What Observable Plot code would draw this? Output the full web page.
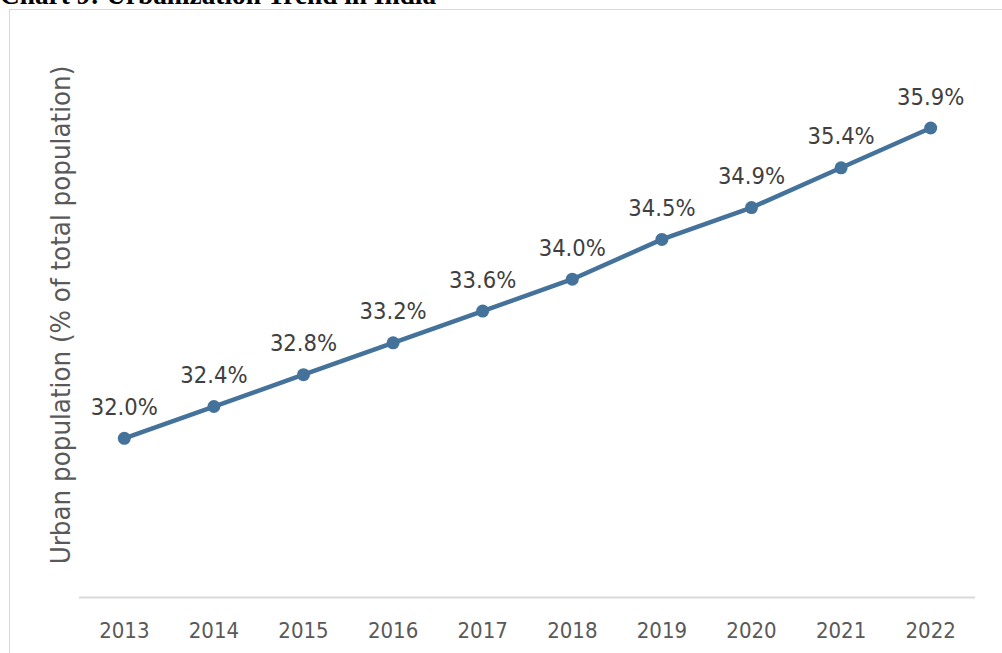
<!DOCTYPE html>
<html>
<head>
<meta charset="utf-8">
<script src="https://cdn.jsdelivr.net/npm/d3@7"></script>
<script src="https://cdn.jsdelivr.net/npm/@observablehq/plot@0.6"></script>
<style>
  html, body { margin: 0; padding: 0; background: #fff; width: 1002px; height: 653px; overflow: hidden; }
  #title { position: absolute; left: 0; top: -18px; font-family: "Liberation Serif", "Times New Roman", serif; font-weight: bold; font-size: 27.3px; color: #000; white-space: nowrap; line-height: 27px; }
  #frame { position: absolute; left: 9px; top: 9px; width: 1100px; height: 700px; border: 1px solid #d9d9d9; box-sizing: border-box; }
  #chart { position: absolute; left: 0; top: 0; }
  #chart svg text { font-stretch: condensed; }
</style>
</head>
<body>
<div id="title">Chart 9: Urbanization Trend in India</div>
<div id="frame"></div>
<div id="chart"></div>
<script>
const years = ["2013","2014","2015","2016","2017","2018","2019","2020","2021","2022"];
const urbanShare = [32.0, 32.4, 32.8, 33.2, 33.6, 34.0, 34.5, 34.9, 35.4, 35.9];
const yTitle = "Urban population (% of total population)";

const data = years.map((y, i) => ({year: y, value: urbanShare[i]}));
const font = "'DejaVu Sans Condensed', 'DejaVu Sans', Verdana, sans-serif";
const lineColor = "#44729a";

const chart = Plot.plot({
  width: 1002,
  height: 653,
  marginLeft: 79,
  marginRight: 27,
  marginTop: 40,
  marginBottom: 56,
  style: {fontFamily: font, background: "transparent", overflow: "visible"},
  x: {type: "point", domain: years, padding: 0.5, round: false, label: null},
  y: {domain: [30, 37], axis: null},
  marks: [
    Plot.ruleY([30], {stroke: "#d9d9d9", strokeWidth: 2}),
    Plot.axisX({tickSize: 0, tickPadding: 0, dy: 25, fontSize: 22, fill: "#595959", label: null}),
    Plot.line(data, {x: "year", y: "value", stroke: lineColor, strokeWidth: 4.5}),
    Plot.dot(data, {x: "year", y: "value", r: 6.5, fill: lineColor, stroke: null}),
    Plot.text(data, {x: "year", y: "value", text: d => d.value.toFixed(1) + "%", dy: -31, fontSize: 23.5, fill: "#404040"})
  ]
});
document.getElementById("chart").appendChild(chart);

// y-axis title
d3.select(chart).append("text")
  .attr("transform", "translate(62,315) rotate(-90)")
  .attr("text-anchor", "middle")
  .attr("dominant-baseline", "middle")
  .attr("font-family", font)
  .attr("font-size", 27.4)
  .attr("fill", "#595959")
  .text(yTitle);
</script>
</body>
</html>
